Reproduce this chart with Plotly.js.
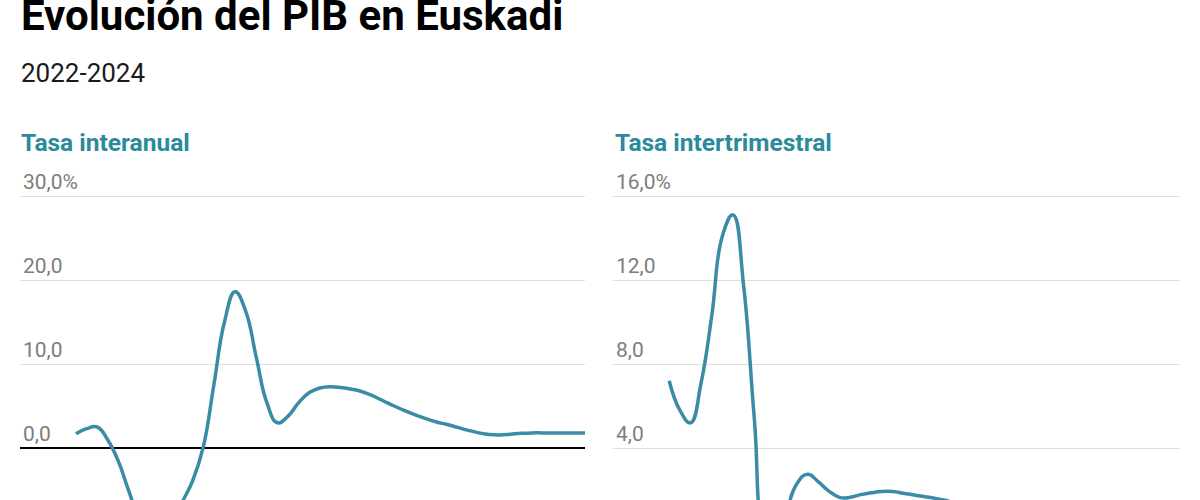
<!DOCTYPE html>
<html>
<head>
<meta charset="utf-8">
<script src="https://cdn.plot.ly/plotly-3.0.1.min.js"></script>
<style>
  html, body { margin: 0; padding: 0; background: #fff; overflow: hidden; }
  #chart { width: 1200px; height: 700px; }
</style>
</head>
<body>
<div id="chart"></div>
<script>
// half-monthly periods, Jan 2022 to Jan 2024
const periods = [
  '2022-01-01', '2022-01-16', '2022-02-01', '2022-02-16', '2022-03-01', '2022-03-16',
  '2022-04-01', '2022-04-16', '2022-05-01', '2022-05-16', '2022-06-01', '2022-06-16',
  '2022-07-01', '2022-07-16', '2022-08-01', '2022-08-16', '2022-09-01', '2022-09-16',
  '2022-10-01', '2022-10-16', '2022-11-01', '2022-11-16', '2022-12-01', '2022-12-16',
  '2023-01-01', '2023-01-16', '2023-02-01', '2023-02-16', '2023-03-01', '2023-03-16',
  '2023-04-01', '2023-04-16', '2023-05-01', '2023-05-16', '2023-06-01', '2023-06-16',
  '2023-07-01', '2023-07-16', '2023-08-01', '2023-08-16', '2023-09-01', '2023-09-16',
  '2023-10-01', '2023-10-16', '2023-11-01', '2023-11-16', '2023-12-01', '2023-12-16',
  '2024-01-01'
];

// % tasa interanual
const interanual = [
  1.7, 2.3, 2.5, 0.95, -1.6, -5.2, -8.5, -10.0, -10.2, -9.3, -6.5, -3.9,
  0.1, 7.5, 15.0, 18.6, 16.3, 10.8, 5.4, 3.0, 3.8, 5.4, 6.6, 7.15,
  7.3, 7.2, 7.0, 6.7, 6.2, 5.6, 5.0, 4.45, 3.95, 3.5, 3.1, 2.8,
  2.45, 2.1, 1.8, 1.6, 1.55, 1.65, 1.75, 1.8, 1.8, 1.8, 1.8, 1.8,
  1.8
];

// % tasa intertrimestral
const intertrimestral = [
  7.2, 5.8, 5.2, 7.1, 10.3, 14.1, 15.1, 11.7, 5.4, -0.2, -0.8, 0.9,
  2.3, 2.75, 2.4, 1.95, 1.65, 1.65, 1.78, 1.87, 1.93, 1.93, 1.85, 1.76,
  1.68, 1.6, 1.5, 1.35, 1.2, 1.1, 1.0, 0.9, 0.85, 0.8, 0.75, 0.7,
  0.7, 0.65, 0.6, 0.6, 0.55, 0.5, 0.5, 0.5, 0.45, 0.45, 0.4, 0.4,
  0.4
];

const leftTicks = [0, 10, 20, 30];
const leftTickText = ['0,0', '10,0', '20,0', '30,0%'];
const rightTicks = [4, 8, 12, 16];
const rightTickText = ['4,0', '8,0', '12,0', '16,0%'];

const LINE_COLOR = '#3a8ba5';
const HEAD_COLOR = '#2b8a9b';
const H = 700;
const py = p => 1 - p / H;   // pixel from top -> paper y

const baseY = {
  domain: [0, py(170.8)],
  showline: false,
  ticks: '',
  gridcolor: '#dedede',
  gridwidth: 1,
  ticklabelposition: 'inside top',
  ticklabeloverflow: 'allow',
  tickfont: { family: 'Roboto', size: 21, color: '#7d7d7d' },
  fixedrange: true,
};

const baseX = {
  type: 'category',
  range: [-5.28, 48],
  showgrid: false,
  showticklabels: false,
  zeroline: false,
  showline: false,
  ticks: '',
  fixedrange: true,
};

const traces = [
  {
    x: periods, y: interanual,
    type: 'scatter', mode: 'lines',
    line: { color: LINE_COLOR, width: 3.5, shape: 'spline', smoothing: 1.3 },
    xaxis: 'x', yaxis: 'y',
    hoverinfo: 'skip',
  },
  {
    x: periods, y: intertrimestral,
    type: 'scatter', mode: 'lines',
    line: { color: LINE_COLOR, width: 3.5, shape: 'spline', smoothing: 1.3 },
    xaxis: 'x2', yaxis: 'y2',
    hoverinfo: 'skip',
  },
];

const layout = {
  width: 1200,
  height: H,
  paper_bgcolor: '#fff',
  plot_bgcolor: '#fff',
  showlegend: false,
  margin: { l: 0, r: 0, t: 0, b: 0, pad: 0 },
  font: { family: 'Roboto', color: '#000' },
  xaxis: Object.assign({}, baseX, { domain: [20 / 1200, 585 / 1200], anchor: 'y' }),
  xaxis2: Object.assign({}, baseX, { domain: [613 / 1200, 1180 / 1200], anchor: 'y2' }),
  yaxis: Object.assign({}, baseY, {
    anchor: 'x',
    range: [-30, 33],
    tickvals: leftTicks,
    ticktext: leftTickText,
    zeroline: true,
    zerolinecolor: '#000',
    zerolinewidth: 2,
  }),
  yaxis2: Object.assign({}, baseY, {
    anchor: 'x2',
    range: [-8, 17.2],
    tickvals: rightTicks,
    ticktext: rightTickText,
    zeroline: true,
    zerolinecolor: '#000',
    zerolinewidth: 2,
  }),
  annotations: [
    {
      text: 'Evolución del PIB en Euskadi',
      xref: 'paper', yref: 'paper', x: 18.5 / 1200, y: py(15),
      xanchor: 'left', yanchor: 'middle', showarrow: false,
      font: { family: 'Roboto', size: 42, weight: 700, color: '#000' },
    },
    {
      text: '2022-2024',
      xref: 'paper', yref: 'paper', x: 18.5 / 1200, y: py(72.8),
      xanchor: 'left', yanchor: 'middle', showarrow: false,
      font: { family: 'Roboto', size: 26, color: '#1a1a1a' },
    },
    {
      text: 'Tasa interanual',
      xref: 'paper', yref: 'paper', x: 18.5 / 1200, y: py(142),
      xanchor: 'left', yanchor: 'middle', showarrow: false,
      font: { family: 'Roboto', size: 24.5, weight: 700, color: HEAD_COLOR },
    },
    {
      text: 'Tasa intertrimestral',
      xref: 'paper', yref: 'paper', x: 613 / 1200, y: py(142),
      xanchor: 'left', yanchor: 'middle', showarrow: false,
      font: { family: 'Roboto', size: 24.5, weight: 700, color: HEAD_COLOR },
    },
  ],
};

Plotly.newPlot('chart', traces, layout, { displayModeBar: false, staticPlot: true });
</script>
</body>
</html>
